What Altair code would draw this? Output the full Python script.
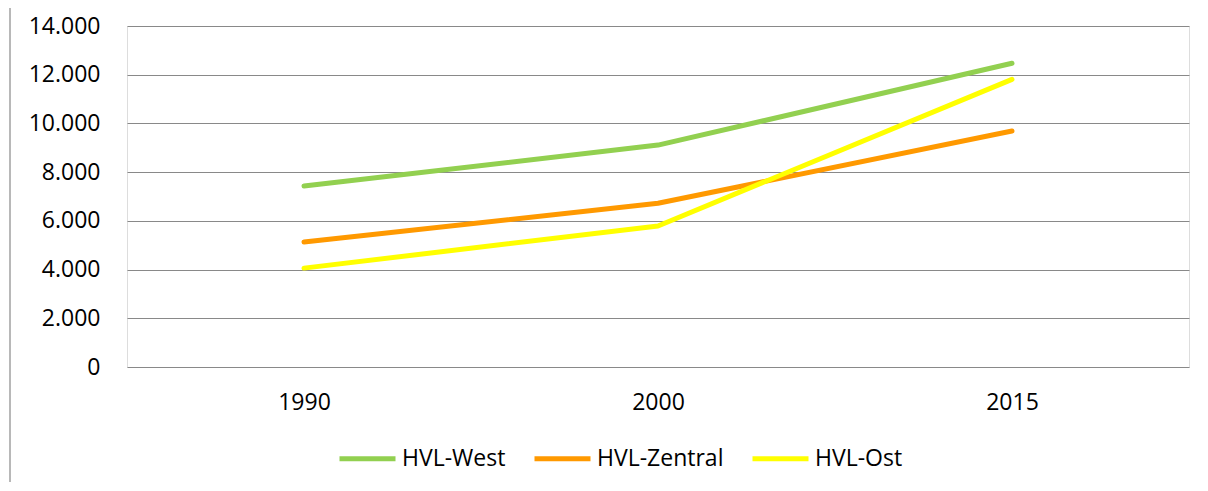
import altair as alt
import pandas as pd

years = ["1990", "2000", "2015"]
series_names = ["HVL-West", "HVL-Zentral", "HVL-Ost"]
west = [7430, 9110, 12470]
zentral = [5130, 6720, 9690]
ost = [4060, 5790, 11810]
colors = ["#92D050", "#FF9900", "#FFFF00"]
y_ticks = [0, 2000, 4000, 6000, 8000, 10000, 12000, 14000]

rows = []
for name, vals in zip(series_names, [west, zentral, ost]):
    for yr, v in zip(years, vals):
        rows.append({"Jahr": yr, "Wert": v, "Serie": name})
df = pd.DataFrame(rows)

FONT = "Open Sans"

lines = alt.Chart(df).mark_line(strokeWidth=5, strokeCap="round", strokeJoin="round").encode(
    x=alt.X("Jahr:O", sort=years, title=None,
            axis=alt.Axis(labelAngle=0, ticks=False, tickSize=0, domain=False, grid=False,
                          labelPadding=24, labelFontSize=23, labelFont=FONT, labelColor="#000000")),
    y=alt.Y("Wert:Q", title=None, scale=alt.Scale(domain=[0, 14000], nice=False),
            axis=alt.Axis(values=y_ticks, ticks=False, tickSize=0, domain=False, grid=True,
                          gridColor="#898989", gridWidth=1.2,
                          labelExpr="replace(format(datum.value, ','), ',', '.')",
                          labelPadding=27, labelFontSize=23, labelFont=FONT, labelColor="#000000")),
    color=alt.Color("Serie:N", sort=series_names,
                    scale=alt.Scale(domain=series_names, range=colors),
                    legend=alt.Legend(title=None, orient="none", direction="horizontal",
                                      legendX=210, legendY=402,
                                      symbolType="stroke", symbolSize=3136, symbolStrokeWidth=5,
                                      labelFontSize=23, labelFont=FONT, labelColor="#000000",
                                      labelOffset=4, columnPadding=18)),
)

border = alt.Chart(pd.DataFrame({"a": [0]})).mark_rule(color="#A0A0A0", strokeWidth=1.5).encode(
    x=alt.value(-117), y=alt.value(-30), y2=alt.value(470)
)

chart = alt.layer(border, lines).properties(
    width=1062, height=341,
    autosize=alt.AutoSizeParams(type="none"),
    padding={"left": 119, "top": 18, "right": 10, "bottom": 115},
).configure_view(stroke=None).configure(background="white")

chart.save("out.html", embed_options={"renderer": "svg", "actions": False})
